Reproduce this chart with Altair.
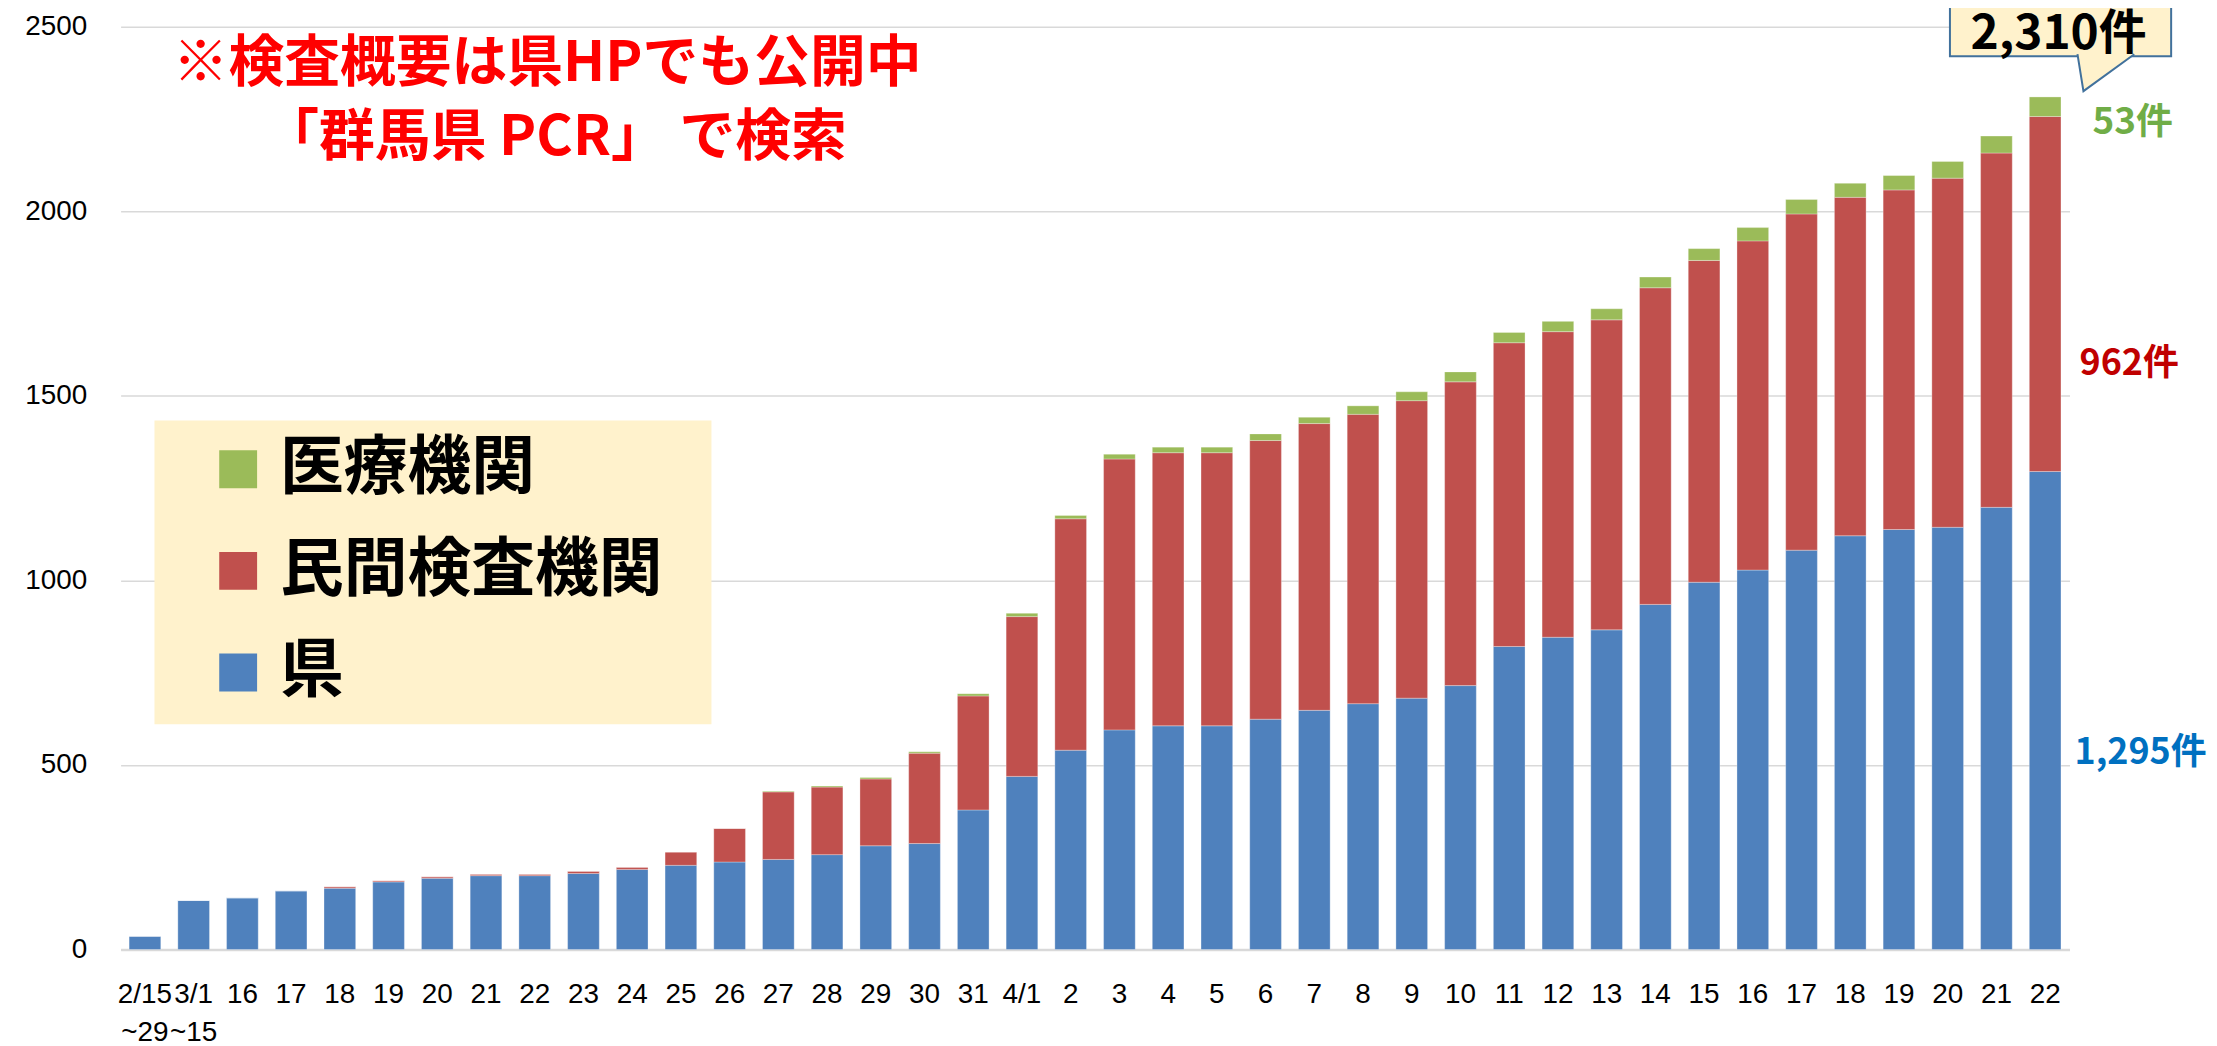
import json
import altair as alt
import pandas as pd

# ---------------- data ----------------
labels = ["2/15\n~29", "3/1\n~15", "16", "17", "18", "19", "20", "21", "22", "23", "24",
          "25", "26", "27", "28", "29", "30", "31", "4/1", "2", "3", "4", "5", "6", "7",
          "8", "9", "10", "11", "12", "13", "14", "15", "16", "17", "18", "19", "20", "21", "22"]
pref = [36, 133, 140, 159, 166, 183, 193, 200, 200, 206, 217, 228, 237, 244, 257, 281, 287,
        378, 469, 540, 595, 606, 606, 624, 648, 666, 681, 715, 821, 846, 866, 935, 995, 1028,
        1082, 1121, 1138, 1144, 1198, 1295]
private = [0, 0, 0, 0, 4, 3, 4, 4, 4, 6, 6, 36, 91, 183, 183, 181, 245, 309, 433, 627, 734,
           740, 740, 755, 777, 784, 806, 823, 823, 828, 840, 858, 872, 892, 911, 917, 920, 946,
           960, 962]
medical = [0, 0, 0, 0, 0, 0, 0, 0, 0, 0, 0, 0, 0, 2, 3, 4, 4, 6, 9, 9, 13, 15, 15, 18, 17, 23,
           24, 27, 28, 28, 30, 29, 32, 36, 39, 38, 39, 45, 46, 53]
series_names = ["県", "民間検査機関", "医療機関"]
legend_order = ["医療機関", "民間検査機関", "県"]
colors = ["#9BBB59", "#C0504D", "#4F81BD"]
y_ticks = [0, 500, 1000, 1500, 2000, 2500]

rows = []
for i in range(len(labels)):
    for k, (name, vals) in enumerate(zip(series_names, [pref, private, medical])):
        rows.append({"idx": i, "series": name, "value": vals[i], "ord": k})
df = pd.DataFrame(rows)

label_expr = "split(" + json.dumps(labels, ensure_ascii=False) + "[datum.value], '\\n')"

AXIS_FONT = "Liberation Sans"
JP = "Noto Sans CJK JP"

bars = alt.Chart(df).mark_bar(stroke="white", strokeWidth=0.6, strokeOpacity=0.5).encode(
    x=alt.X("idx:O",
            scale=alt.Scale(paddingInner=0.35, paddingOuter=0.175),
            axis=alt.Axis(title=None, labelExpr=label_expr, labelAngle=0, ticks=False,
                          domainColor="#D9D9D9", domainWidth=2.5, labelFont=AXIS_FONT,
                          labelFontSize=28, labelColor="#000000", labelPadding=31,
                          labelLineHeight=38, labelOverlap=False, labelBound=False,
                          labelFlush=False, grid=False)),
    y=alt.Y("value:Q", stack="zero",
            scale=alt.Scale(domain=[0, 2500], nice=False),
            axis=alt.Axis(title=None, values=y_ticks, format="d", domain=False, ticks=False,
                          gridColor="#D9D9D9", gridWidth=1.5, labelFont=AXIS_FONT,
                          labelFontSize=28, labelColor="#000000", labelPadding=34)),
    color=alt.Color("series:N",
                    scale=alt.Scale(domain=legend_order, range=colors),
                    legend=alt.Legend(orient="none", legendX=86, legendY=412, title=None,
                                      direction="vertical", symbolType="square",
                                      symbolSize=1444, symbolStrokeWidth=0, symbolOpacity=1,
                                      labelFont=JP, labelFontSize=64, labelFontWeight="bold",
                                      labelColor="#000000", labelOffset=10, rowPadding=38,
                                      padding=0, labelLimit=1000)),
    order=alt.Order("ord:Q", sort="ascending"),
)

one = pd.DataFrame({"k": [0]})

legend_bg = alt.Chart(one).mark_rect(color="#FFF2CC").encode(
    x=alt.value(34), x2=alt.value(593), y=alt.value(395), y2=alt.value(700))

title1 = alt.Chart(one).mark_text(font=JP, fontSize=56, fontWeight="bold", color="#FF0000",
                                  align="center", baseline="middle").encode(
    x=alt.value(428), y=alt.value(37), text=alt.value("※検査概要は県HPでも公開中"))
title2 = alt.Chart(one).mark_text(font=JP, fontSize=56, fontWeight="bold", color="#FF0000",
                                  align="center", baseline="middle").encode(
    x=alt.value(436), y=alt.value(112), text=alt.value("「群馬県 PCR」 で検索"))

call_box = alt.Chart(one).mark_rect(fill="#FFF2CC", stroke="#41719C", strokeWidth=2).encode(
    x=alt.value(1836), x2=alt.value(2058), y=alt.value(-40), y2=alt.value(29.6))
call_tip = alt.Chart(one).mark_point(shape="M -1 -0.65 L -0.79 0.65 L 1 -0.65",
                                     size=3249, fill="#FFF2CC", stroke="#41719C",
                                     strokeWidth=2, opacity=1, fillOpacity=1).encode(
    x=alt.value(1992.5), y=alt.value(46))
call_text = alt.Chart(one).mark_text(font=JP, fontSize=48, fontWeight="bold", color="#000000",
                                     align="center", baseline="middle").encode(
    x=alt.value(1945), y=alt.value(8), text=alt.value("2,310件"))

ann_med = alt.Chart(one).mark_text(font=JP, fontSize=37, fontWeight="bold", color="#70AD47",
                                   align="left", baseline="middle").encode(
    x=alt.value(1979), y=alt.value(97), text=alt.value("53件"))
ann_priv = alt.Chart(one).mark_text(font=JP, fontSize=36, fontWeight="bold", color="#C00000",
                                    align="left", baseline="middle").encode(
    x=alt.value(1966), y=alt.value(338), text=alt.value("962件"))
ann_pref = alt.Chart(one).mark_text(font=JP, fontSize=36, fontWeight="bold", color="#0070C0",
                                    align="left", baseline="middle").encode(
    x=alt.value(1961), y=alt.value(729), text=alt.value("1,295件"))

chart = alt.layer(legend_bg, bars, title1, title2, call_box, call_tip, call_text,
                  ann_med, ann_priv, ann_pref).properties(
    width=1956, height=926,
    padding={"left": 113, "top": 17, "right": 140, "bottom": 100},
    autosize=alt.AutoSizeParams(type="none"),
    background="white",
).configure_view(stroke=None)

chart.save("out.html", embed_options={"renderer": "svg", "actions": False})
